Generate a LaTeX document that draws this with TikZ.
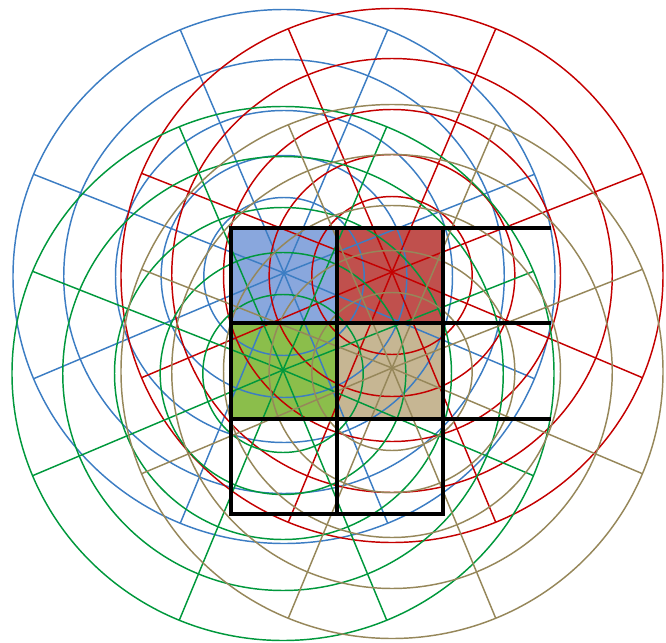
\documentclass[tikz,border=0pt]{standalone}
\definecolor{lblue}{RGB}{60,125,195}
\definecolor{lred}{RGB}{196,0,0}
\definecolor{lgreen}{RGB}{0,152,60}
\definecolor{ltan}{RGB}{150,135,90}
\definecolor{fblue}{RGB}{137,167,221}
\definecolor{fred}{RGB}{192,80,77}
\definecolor{fgreen}{RGB}{139,190,75}
\definecolor{ftan}{RGB}{198,182,147}
\tikzset{
  ring/.style={line width=1.25pt},
  gridline/.style={line width=3.4pt, line cap=rect, black}
}
% #1 = centre of spokes, #2 = colour
\newcommand\ringset[2]{%
  \begin{scope}[shift={(#1)}]
    \foreach \r in {79,121,166,217,267}
      \draw[ring,#2] (0,3.5) ellipse [x radius={1.015*\r}, y radius=\r];
    \foreach \a in {22.5,67.5,112.5,157.5,202.5,247.5,292.5,337.5}
      \draw[ring,#2] (0,0) -- ({1.015*267*cos(\a)},{3.5-267*sin(\a)});
  \end{scope}}
\begin{document}
\begin{tikzpicture}[x=0.03cm,y=-0.03cm]
\useasboundingbox (0,0) rectangle (666,643);
\coordinate (cb) at (284,273);
\coordinate (cr) at (392,272);
\coordinate (cg) at (283,370);
\coordinate (ct) at (392,368);
\fill[fblue] (231,228) rectangle (337,323);
\fill[fred] (337,228) rectangle (443,323);
\fill[fgreen] (231,323) rectangle (337,419);
\fill[ftan] (337,323) rectangle (443,419);
\ringset{cb}{lblue}
\ringset{cr}{lred}
\ringset{cg}{lgreen}
\ringset{ct}{ltan}
\draw[gridline] (231,228) -- (549,228);
\draw[gridline] (231,323) -- (549,323);
\draw[gridline] (231,419) -- (549,419);
\draw[gridline] (231,514) -- (443,514);
\draw[gridline] (231,228) -- (231,514);
\draw[gridline] (337,228) -- (337,514);
\draw[gridline] (443,228) -- (443,514);
\end{tikzpicture}
\end{document}
